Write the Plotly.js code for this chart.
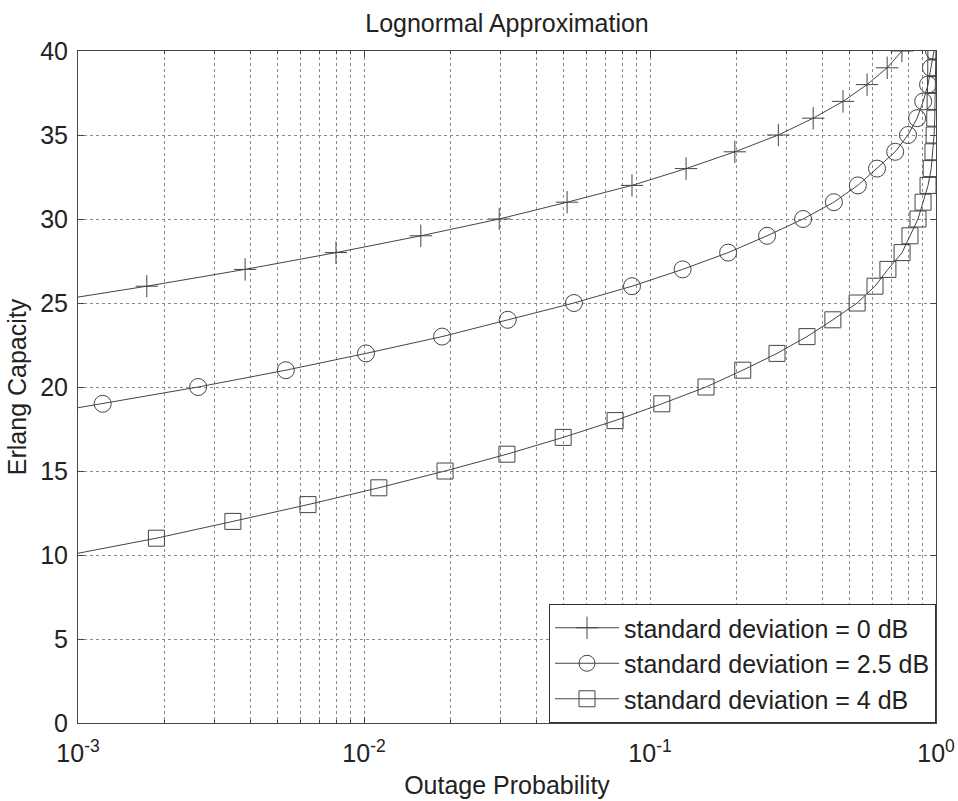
<!DOCTYPE html>
<html>
<head>
<meta charset="utf-8">
<script src="https://cdn.plot.ly/plotly-3.0.1.min.js"></script>
<style>html,body{margin:0;padding:0;background:#fff;}#chart{width:958px;height:801px;}</style>
</head>
<body>
<div id="chart"></div>
<script>
// Series 1: standard deviation = 0 dB
const y0dB = [25, 26, 27, 28, 29, 30, 31, 32, 33, 34, 35, 36, 37, 38, 39, 40];
const x0dB = [0.00074, 0.00174, 0.00384, 0.00798, 0.0158, 0.0297, 0.0513, 0.0865, 0.1337, 0.198, 0.281, 0.372, 0.473, 0.574, 0.675, 0.760];

// Series 2: standard deviation = 2.5 dB
const y25dB = [18, 19, 20, 21, 22, 23, 24, 25, 26, 27, 28, 29, 30, 31, 32, 33, 34, 35, 36, 37, 38, 39, 40];
const x25dB = [0.00055, 0.00122, 0.00263, 0.00533, 0.01016, 0.01875, 0.0318, 0.0542, 0.0865, 0.130, 0.1876, 0.2566, 0.343, 0.4395, 0.533, 0.622, 0.720, 0.798, 0.859, 0.902, 0.938, 0.960, 0.984];

// Series 3: standard deviation = 4 dB
const y4dB = [10, 11, 12, 13, 14, 15, 16, 17, 18, 19, 20, 21, 22, 23, 24, 25, 26, 27, 28, 29, 30, 31, 32, 33, 34, 35, 36, 37, 38, 39, 40];
const x4dB = [0.00093, 0.00188, 0.00348, 0.00637, 0.01127, 0.0192, 0.0316, 0.0497, 0.0755, 0.110, 0.157, 0.211, 0.278, 0.354, 0.436, 0.530, 0.612, 0.679, 0.761, 0.811, 0.865, 0.901, 0.938, 0.962, 0.976, 0.985, 0.990, 0.993, 0.996, 0.998, 0.999];

const seriesNames = ['standard deviation = 0 dB', 'standard deviation = 2.5 dB', 'standard deviation = 4 dB'];

// Axis ticks
const xTickVals = [0.001, 0.01, 0.1, 1];
const xTickText = ['10<sup>-3</sup>', '10<sup>-2</sup>', '10<sup>-1</sup>', '10<sup>0</sup>'];
const xMinorVals = [0.002, 0.003, 0.004, 0.005, 0.006, 0.007, 0.008, 0.009,
                    0.02, 0.03, 0.04, 0.05, 0.06, 0.07, 0.08, 0.09,
                    0.2, 0.3, 0.4, 0.5, 0.6, 0.7, 0.8, 0.9];
const yTickVals = [0, 5, 10, 15, 20, 25, 30, 35, 40];

const FONT = 'Liberation Sans, Arial, Helvetica, sans-serif';
const INK = '#222';
const LINE = '#444';
const GRID = '#8a8a8a';

function trace(x, y, name, symbol, size) {
  return {
    x: x, y: y, name: name, type: 'scatter', mode: 'lines+markers',
    line: {color: LINE, width: 1},
    marker: {symbol: symbol, size: size, color: LINE, line: {color: LINE, width: 1}},
    cliponaxis: true
  };
}

const data = [
  trace(x0dB, y0dB, seriesNames[0], 'cross-thin-open', 16),
  trace(x25dB, y25dB, seriesNames[1], 'circle-open', 17),
  trace(x4dB, y4dB, seriesNames[2], 'square-open', 16)
];

const layout = {
  width: 958, height: 801,
  margin: {l: 78, r: 22, t: 51, b: 78},
  paper_bgcolor: '#fff', plot_bgcolor: '#fff',
  font: {family: FONT, size: 24, color: INK},
  showlegend: true,
  title: {text: 'Lognormal Approximation', font: {family: FONT, size: 25, color: INK},
          x: 0.5, xref: 'paper', xanchor: 'center', y: 1 - 23/801, yref: 'container', yanchor: 'middle'},
  xaxis: {
    type: 'log', range: [-3, 0],
    tickmode: 'array', tickvals: xTickVals, ticktext: xTickText,
    ticks: 'inside', ticklen: 6, tickcolor: LINE, tickwidth: 1,
    showline: true, linecolor: LINE, linewidth: 1, mirror: 'ticks',
    showgrid: true, gridcolor: GRID, gridwidth: 1, griddash: '3px,3px',
    minor: {tickmode: 'array', tickvals: xMinorVals, ticks: 'inside', ticklen: 3, tickcolor: LINE,
            showgrid: true, gridcolor: GRID, gridwidth: 1, griddash: '3px,3px'},
    zeroline: false,
    tickfont: {family: FONT, size: 25, color: INK},
    ticklabelstandoff: 8,
    title: {text: 'Outage Probability', font: {family: FONT, size: 25, color: INK}, standoff: 10}
  },
  yaxis: {
    range: [0, 40], tickmode: 'array', tickvals: yTickVals,
    ticks: 'inside', ticklen: 6, tickcolor: LINE, tickwidth: 1,
    showline: true, linecolor: LINE, linewidth: 1, mirror: 'ticks',
    showgrid: true, gridcolor: GRID, gridwidth: 1, griddash: '3px,3px',
    zeroline: false,
    tickfont: {family: FONT, size: 25, color: INK},
    ticklabelstandoff: 4,
    title: {text: 'Erlang Capacity', font: {family: FONT, size: 25, color: INK}, standoff: 6}
  },
  legend: {
    x: 1, xanchor: 'right', y: 0, yanchor: 'bottom',
    bgcolor: '#fff', bordercolor: '#333', borderwidth: 1,
    font: {family: FONT, size: 25, color: INK},
    itemwidth: 64, tracegroupgap: 0
  }
};

Plotly.newPlot('chart', data, layout, {staticPlot: true, displayModeBar: false});
</script>
</body>
</html>
